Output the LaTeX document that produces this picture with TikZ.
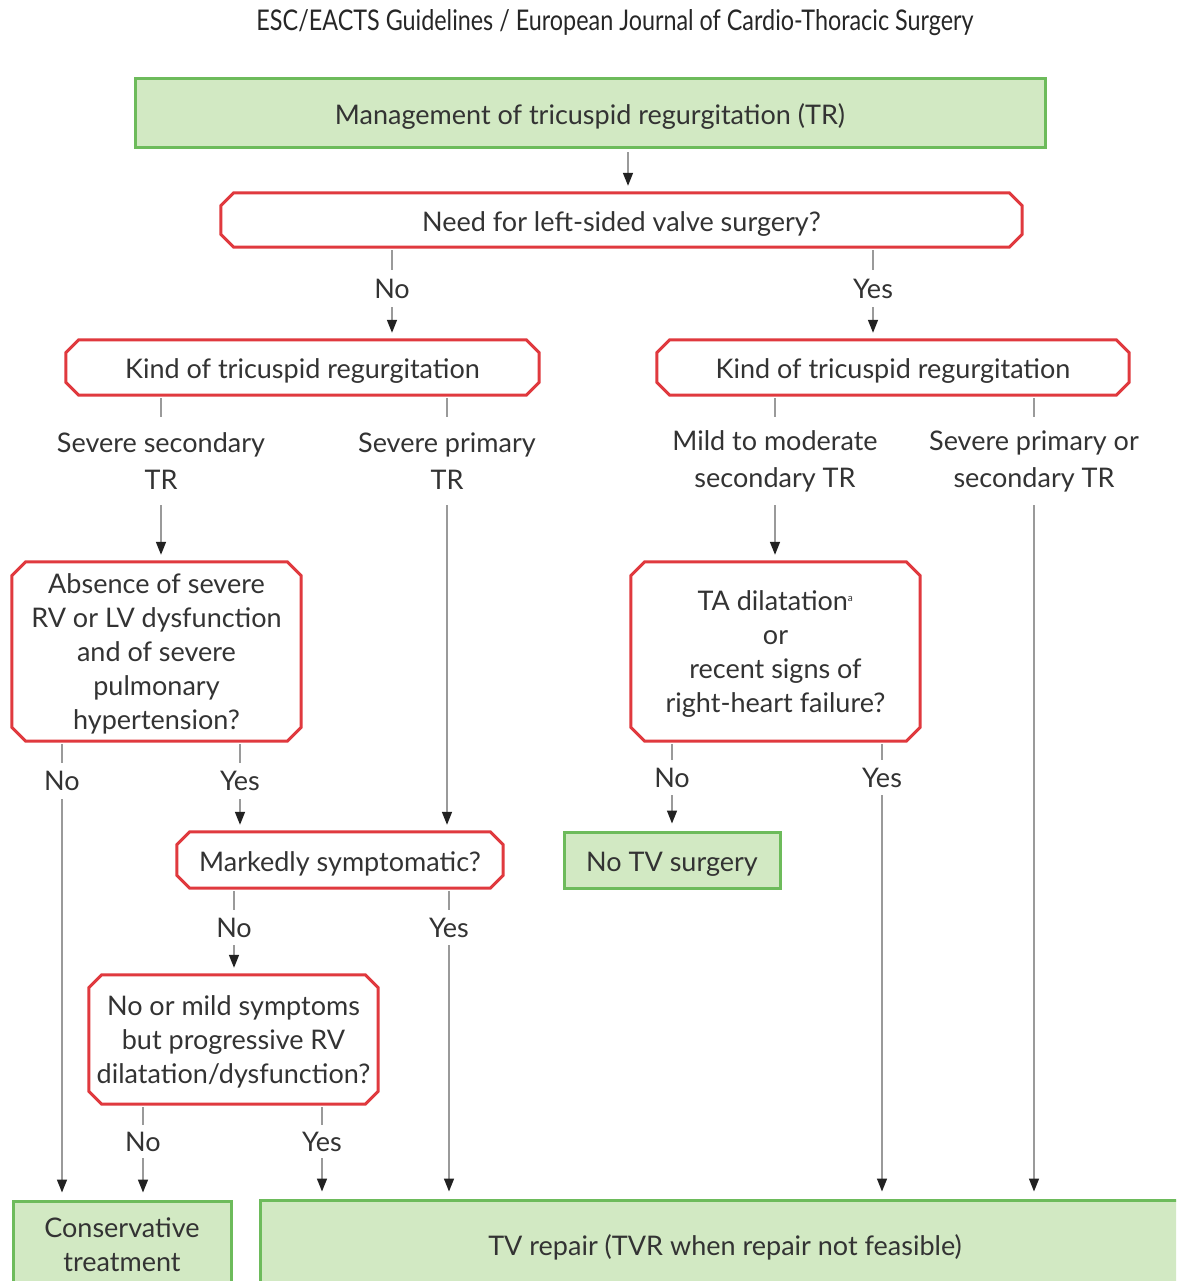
\documentclass[tikz,border=0pt]{standalone}
\usepackage{fontspec}
\setmainfont{Lato}
\newfontfamily\hdrfont[FakeStretch=0.82]{Lato}
\usetikzlibrary{arrows.meta}
\definecolor{gfill}{HTML}{D2E9C3}
\definecolor{gdraw}{HTML}{6DBB5B}
\definecolor{rdraw}{HTML}{E0393E}
\definecolor{lgray}{HTML}{9A9A9A}
\definecolor{txt}{HTML}{333333}
\definecolor{tipc}{HTML}{222222}
\newcommand\chamf[2][13]{\draw[rline] ([xshift=#1pt]#2.north west) -- ([xshift=-#1pt]#2.north east) -- ([yshift=-#1pt]#2.north east) -- ([yshift=#1pt]#2.south east) -- ([xshift=-#1pt]#2.south east) -- ([xshift=#1pt]#2.south west) -- ([yshift=#1pt]#2.south west) -- ([yshift=-#1pt]#2.north west) -- cycle;}
\newcommand\dnstrut{\rule{0pt}{1em}}
\newcommand\dnlines[1]{\raisebox{-3.5pt}[\height][\depth]{\begin{tabular}{@{}c@{}}#1\end{tabular}}}
\begin{document}
\begin{tikzpicture}[x=1pt,y=-1pt, font=\fontsize{27}{34}\selectfont, text=txt,
 gbox/.style={draw=gdraw, fill=gfill, line width=3pt, inner sep=0pt, align=center, execute at begin node=\dnstrut},
 qbox/.style={inner sep=0pt, align=center, execute at begin node=\dnstrut},
 qboxm/.style={inner sep=0pt, align=center},
 lbl/.style={inner sep=0pt, align=center},
 lbl2/.style={inner sep=0pt, align=center, font=\fontsize{27}{37}\selectfont, execute at begin node=\dnstrut},
 gl/.style={draw=lgray, line width=1.5pt, shorten <=3pt},
 arr/.style={draw=lgray, line width=1.5pt, -{Triangle[length=13pt,width=10pt,color=tipc]}, shorten >=7pt},
 rline/.style={draw=rdraw, line width=3pt, line join=miter}]
\clip (0,0) rectangle (1176,1281);
\fill[white] (0,0) rectangle (1176,1281);
\node[font=\hdrfont\fontsize{28.5}{30}\selectfont, text=black!85] (hdr) at (615,23) {ESC/EACTS Guidelines / European Journal of Cardio-Thoracic Surgery};
% boxes
\node[gbox, minimum width=910, minimum height=69] (b1) at (590,113.5) {Management of tricuspid regurgitation (TR)};
\node[qbox, minimum width=801, minimum height=54] (q1) at (621.5,220) {Need for left-sided valve surgery?};
\node[qbox, minimum width=473, minimum height=55] (k1) at (302.5,367.5) {Kind of tricuspid regurgitation};
\node[qbox, minimum width=472, minimum height=55] (k2) at (893,367.5) {Kind of tricuspid regurgitation};
\node[qboxm, minimum width=289, minimum height=179] (q2) at (156.5,651.5) {\dnlines{Absence of severe\\RV or LV dysfunction\\and of severe\\pulmonary\\hypertension?}};
\node[qboxm, minimum width=289, minimum height=179] (q3) at (775.5,651.5) {\dnlines{TA dilatation\textsuperscript{\fontsize{10}{10}\selectfont a}\\or\\recent signs of\\right-heart failure?}};
\node[qbox, minimum width=326, minimum height=56] (q4) at (340,860) {Markedly symptomatic?};
\node[gbox, minimum width=216, minimum height=56] (nt) at (672,860) {No TV surgery};
\node[qboxm, minimum width=289, minimum height=129] (q5) at (233.5,1039.5) {\dnlines{No or mild symptoms\\but progressive RV\\dilatation/dysfunction?}};
\node[gbox, minimum width=218, minimum height=88] (cons) at (122,1245) {Conservative\\treatment};
\node[gbox, minimum width=930, minimum height=88, execute at begin node={}] (tv) at (725,1244) {TV repair (TVR when repair not feasible)};
\chamf{q1}\chamf{k1}\chamf{k2}\chamf[14]{q2}\chamf[14]{q3}\chamf{q4}\chamf{q5}
% columns
\coordinate (c628) at (628,0);
\draw[arr, shorten <=3pt] (b1.south -| c628) -- (q1.north -| c628);
% labels
\node[lbl, minimum height=37] (n1) at (392,288.5) {No};
\node[lbl, minimum height=37] (y1) at (873,288.5) {Yes};
\node[lbl2, minimum height=88] (s1) at (161,461) {Severe secondary\\TR};
\node[lbl2, minimum height=88] (s2) at (447,461) {Severe primary\\TR};
\node[lbl2, minimum height=88] (s3) at (775,461) {Mild to moderate\\secondary TR};
\node[lbl2, minimum height=88] (s4) at (1034,461) {Severe primary or\\secondary TR};
\node[lbl, minimum height=36] (a1) at (62,781) {No};
\node[lbl, minimum height=36] (a2) at (240,781) {Yes};
\node[lbl, minimum height=35] (a3) at (672,777.5) {No};
\node[lbl, minimum height=35] (a4) at (882,777.5) {Yes};
\node[lbl, minimum height=35] (m1) at (234,927.5) {No};
\node[lbl, minimum height=35] (m2) at (449,927.5) {Yes};
\node[lbl, minimum height=33] (p1) at (143,1141.5) {No};
\node[lbl, minimum height=33] (p2) at (322,1141.5) {Yes};
% connectors
\draw[gl] (q1.south -| n1) -- (n1.north);
\draw[arr] (n1.south) -- (k1.north -| n1);
\draw[gl] (q1.south -| y1) -- (y1.north);
\draw[arr] (y1.south) -- (k2.north -| y1);
\draw[gl] (k1.south -| s1) -- (s1.north);
\draw[arr] (s1.south) -- (q2.north -| s1);
\draw[gl] (k1.south -| s2) -- (s2.north);
\draw[arr] (s2.south) -- (q4.north -| s2);
\draw[gl] (k2.south -| s3) -- (s3.north);
\draw[arr] (s3.south) -- (q3.north -| s3);
\draw[gl] (k2.south -| s4) -- (s4.north);
\draw[arr] (s4.south) -- (tv.north -| s4);
\draw[gl] (q2.south -| a1) -- (a1.north);
\draw[arr] (a1.south) -- (cons.north -| a1);
\draw[gl] (q2.south -| a2) -- (a2.north);
\draw[arr] (a2.south) -- (q4.north -| a2);
\draw[gl] (q3.south -| a3) -- (a3.north);
\draw[arr] (a3.south) -- (nt.north -| a3);
\draw[gl] (q3.south -| a4) -- (a4.north);
\draw[arr] (a4.south) -- (tv.north -| a4);
\draw[gl] (q4.south -| m1) -- (m1.north);
\draw[arr] (m1.south) -- (q5.north -| m1);
\draw[gl] (q4.south -| m2) -- (m2.north);
\draw[arr] (m2.south) -- (tv.north -| m2);
\draw[gl] (q5.south -| p1) -- (p1.north);
\draw[arr] (p1.south) -- (cons.north -| p1);
\draw[gl] (q5.south -| p2) -- (p2.north);
\draw[arr] (p2.south) -- (tv.north -| p2);
\end{tikzpicture}
\end{document}
